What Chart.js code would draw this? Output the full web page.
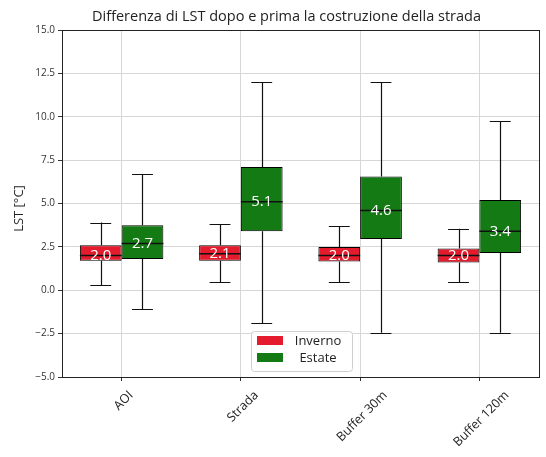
<!DOCTYPE html>
<html>
<head>
<meta charset="utf-8">
<script src="https://cdn.jsdelivr.net/npm/chart.js@4.4.1/dist/chart.umd.min.js"></script>
<style>
  html, body { margin: 0; padding: 0; background: #fff; }
  #wrap { width: 546px; height: 457px; }
</style>
</head>
<body>
<div id="wrap"><canvas id="chart"></canvas></div>
<script>
// box plot values
const categories = ['AOI', 'Strada', 'Buffer 30m', 'Buffer 120m'];

const winterMin    = [0.3, 0.45, 0.45, 0.45];
const winterQ1     = [1.7, 1.7, 1.65, 1.6];
const winterMedian = [2.0, 2.1, 2.0, 2.0];
const winterQ3     = [2.6, 2.6, 2.5, 2.4];
const winterMax    = [3.9, 3.8, 3.7, 3.55];

const summerMin    = [-1.1, -1.9, -2.45, -2.45];
const summerQ1     = [1.8, 3.4, 2.95, 2.15];
const summerMedian = [2.7, 5.1, 4.6, 3.4];
const summerQ3     = [3.75, 7.1, 6.55, 5.2];
const summerMax    = [6.7, 12.0, 12.0, 9.75];

const yTicks = [-5, -2.5, 0, 2.5, 5, 7.5, 10, 12.5, 15];

const FONT = '"Open Sans", "DejaVu Sans", sans-serif';
const RED = '#e41b2c';
const GREEN = '#137a14';

const stats = [
	{ min: winterMin, q1: winterQ1, med: winterMedian, q3: winterQ3, max: winterMax },
	{ min: summerMin, q1: summerQ1, med: summerMedian, q3: summerQ3, max: summerMax }
];

function fmt(v) {
	return (v < 0 ? '\u2212' : '') + Math.abs(v).toFixed(1);
}

const boxPlugin = {
	id: 'boxExtras',
	afterDatasetsDraw(chart) {
		const ctx = chart.ctx;
		const y = chart.scales.y;
		ctx.save();
		stats.forEach(function (s, d) {
			const meta = chart.getDatasetMeta(d);
			meta.data.forEach(function (el, i) {
				const x = el.x, w = el.width;
				const pMin = y.getPixelForValue(s.min[i]);
				const pMax = y.getPixelForValue(s.max[i]);
				const pQ1 = y.getPixelForValue(s.q1[i]);
				const pQ3 = y.getPixelForValue(s.q3[i]);
				const pMed = y.getPixelForValue(s.med[i]);
				ctx.strokeStyle = '#111';
				ctx.lineWidth = 1.2;
				ctx.beginPath();
				// whiskers
				ctx.moveTo(Math.round(x) + 0.5, pQ3); ctx.lineTo(Math.round(x) + 0.5, pMax);
				ctx.moveTo(Math.round(x) + 0.5, pQ1); ctx.lineTo(Math.round(x) + 0.5, pMin);
				// caps
				ctx.moveTo(x - w / 4, Math.round(pMax) + 0.5); ctx.lineTo(x + w / 4, Math.round(pMax) + 0.5);
				ctx.moveTo(x - w / 4, Math.round(pMin) + 0.5); ctx.lineTo(x + w / 4, Math.round(pMin) + 0.5);
				ctx.stroke();
				// median
				ctx.lineWidth = 1.5;
				ctx.beginPath();
				ctx.moveTo(x - w / 2, pMed); ctx.lineTo(x + w / 2, pMed);
				ctx.stroke();
				ctx.fillStyle = '#fff';
				ctx.font = '15px ' + FONT;
				ctx.textAlign = 'center';
				ctx.textBaseline = 'middle';
				ctx.fillText(s.med[i].toFixed(1), x, pMed);
			});
		});
		ctx.restore();
	},
	afterDraw(chart) {
		const ctx = chart.ctx;
		const a = chart.chartArea;
		const xs = chart.scales.x;
		ctx.save();
		// frame
		ctx.strokeStyle = '#222';
		ctx.lineWidth = 1;
		ctx.strokeRect(Math.round(a.left) + 0.5, Math.round(a.top) + 0.5, Math.round(a.right - a.left), Math.round(a.bottom - a.top));

		// title
		ctx.fillStyle = '#222';
		ctx.font = '14.5px ' + FONT;
		ctx.textAlign = 'center';
		ctx.textBaseline = 'middle';
		ctx.fillText('Differenza di LST dopo e prima la costruzione della strada', (a.left + a.right) / 2 - 14, 17);

		// y axis title
		ctx.save();
		ctx.translate(19, (a.top + a.bottom) / 2 + 5);
		ctx.rotate(-Math.PI / 2);
		ctx.font = '13px ' + FONT;
		ctx.fillText('LST [°C]', 0, 0);
		ctx.restore();

		// x tick labels rotated 45, centred on the tick (matplotlib style)
		ctx.font = '12.5px ' + FONT;
		categories.forEach(function (c, i) {
			const px = xs.getPixelForTick(i);
			const tw = ctx.measureText(c).width;
			const h = 12;
			const cy = a.bottom + 12 + (tw + h) / (2 * Math.SQRT2);
			ctx.save();
			ctx.translate(px + 2, cy);
			ctx.rotate(-Math.PI / 4);
			ctx.fillText(c, 0, 0);
			ctx.restore();
		});

		// legend, lower centre
		const names = chart.data.datasets.map(function (ds) { return ds.label; });
		const colors = chart.data.datasets.map(function (ds) { return ds.backgroundColor; });
		const lw = 101, lh = 40;
		const lx = (a.left + a.right) / 2 - lw / 2 + 1;
		const ly = a.bottom - 6 - lh;
		ctx.fillStyle = 'rgba(255,255,255,0.85)';
		ctx.strokeStyle = '#cfcfcf';
		ctx.beginPath();
		ctx.roundRect(lx + 0.5, ly + 0.5, lw, lh, 3);
		ctx.fill();
		ctx.stroke();
		ctx.font = '13px ' + FONT;
		names.forEach(function (n, k) {
			const ry = ly + 5 + k * 17;
			ctx.fillStyle = colors[k];
			ctx.fillRect(lx + 6, ry, 26, 9);
			ctx.fillStyle = '#222';
			ctx.textAlign = 'center';
			ctx.fillText(n, lx + 67, ry + 5);
		});
		ctx.restore();
	}
};

new Chart(document.getElementById('chart'), {
	type: 'bar',
	data: {
		labels: categories,
		datasets: [
			{
				label: 'Inverno',
				data: categories.map(function (_, i) { return [winterQ1[i], winterQ3[i]]; }),
				backgroundColor: RED,
				borderColor: '#000',
				borderWidth: 1,
				borderSkipped: false
			},
			{
				label: 'Estate',
				data: categories.map(function (_, i) { return [summerQ1[i], summerQ3[i]]; }),
				backgroundColor: GREEN,
				borderColor: '#000',
				borderWidth: 1,
				borderSkipped: false
			}
		]
	},
	options: {
		responsive: true,
		maintainAspectRatio: false,
		animation: false,
		categoryPercentage: 0.7,
		barPercentage: 1.0,
		layout: { padding: { left: 0, right: 7, top: 30, bottom: 0 } },
		plugins: {
			legend: { display: false },
			tooltip: { enabled: false },
			title: { display: false }
		},
		scales: {
			x: {
				grid: { offset: false, color: '#d6d6d6', tickColor: '#333', tickLength: 4 },
				border: { display: false },
				ticks: { display: false },
				afterFit: function (scale) { scale.height = 80; }
			},
			y: {
				min: -5,
				max: 15,
				afterBuildTicks: function (scale) { scale.ticks = yTicks.map(function (v) { return { value: v }; }); },
				grid: { color: '#d6d6d6', tickColor: '#333', tickLength: 4 },
				border: { display: false },
				ticks: {
					color: '#333',
					padding: 3,
					font: { family: FONT, size: 10 },
					callback: function (v) { return fmt(v); }
				},
				afterFit: function (scale) { scale.width = 62; }
			}
		}
	},
	plugins: [boxPlugin]
});
</script>
</body>
</html>
